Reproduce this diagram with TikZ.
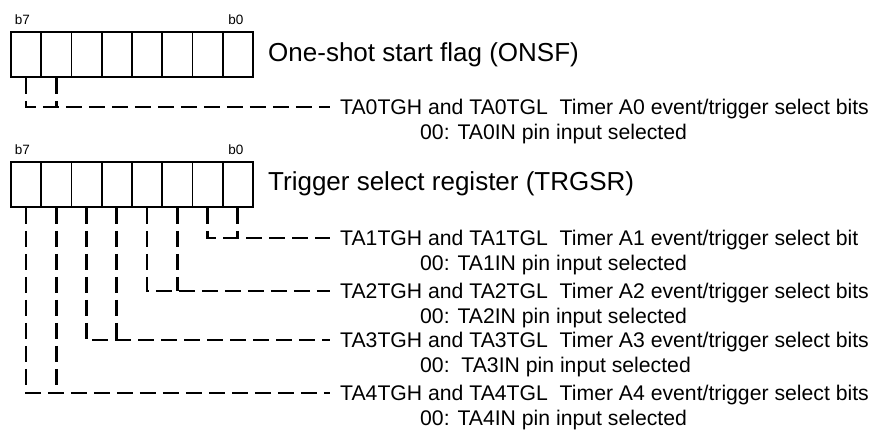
\documentclass[tikz,border=0pt]{standalone}
\usepackage{fontspec}
\setmainfont{Liberation Sans}
\begin{document}
\begin{tikzpicture}[x=1pt,y=-1pt,
  cell/.style={draw, line width=1.9pt, minimum width=30.25pt, minimum height=45pt, inner sep=0pt, anchor=north west},
  bitlbl/.style={font=\fontsize{13.5}{15}\selectfont, inner sep=0pt},
  regtitle/.style={font=\fontsize{26}{30}\selectfont, anchor=base west, inner sep=0pt},
  desc/.style={font=\fontsize{21.2}{25}\selectfont, anchor=west, inner xsep=10pt, inner ysep=0pt, text height=15.2pt, text depth=0pt},
  subdesc/.style={font=\fontsize{21.2}{25}\selectfont, anchor=base west, inner sep=0pt},
  link/.style={line width=2.8pt, dash pattern=on 16pt off 7pt}]
\useasboundingbox (0,0) rectangle (876,429);
\foreach \i in {0,...,7} {
  \node[cell] (a\i) at ({10+30.25*\i},31) {};
  \node[cell] (b\i) at ({10+30.25*\i},161) {};
}
\node[bitlbl] (a7l) at (22.5,20) {b7};
\node[bitlbl] (a0l) at (236,20) {b0};
\node[bitlbl] (b7l) at (22.5,150) {b7};
\node[bitlbl] (b0l) at (236,150) {b0};
\node[regtitle] (ta) at (268,61) {One-shot start flag (ONSF)};
\node[regtitle] (tb) at (268,190) {Trigger select register (TRGSR)};
\node[desc] (d0) at (330,107) {TA0TGH and TA0TGL\ \ Timer A0 event/trigger select bits};
\node[subdesc] (s0) at (420,139.5) {00: TA0IN pin input selected};
\node[desc] (d1) at (330,238) {TA1TGH and TA1TGL\ \ Timer A1 event/trigger select bit};
\node[subdesc] (s1) at (420,270.5) {00: TA1IN pin input selected};
\node[desc] (d2) at (330,291) {TA2TGH and TA2TGL\ \ Timer A2 event/trigger select bits};
\node[subdesc] (s2) at (420,323.5) {00: TA2IN pin input selected};
\node[desc] (d3) at (330,340) {TA3TGH and TA3TGL\ \ Timer A3 event/trigger select bits};
\node[subdesc] (s3) at (420,372.5) {00:\ \ TA3IN pin input selected};
\node[desc] (d4) at (330,393) {TA4TGH and TA4TGL\ \ Timer A4 event/trigger select bits};
\node[subdesc] (s4) at (420,425) {00: TA4IN pin input selected};
% connectors
\draw[link] (a0.south) |- (d0.west);
\draw[link] (a1.south) -- (a1.south |- d0.west);
\draw[link] (b6.south) |- (d1.west);
\draw[link] (b7.south) -- (b7.south |- d1.west);
\draw[link] (b4.south) |- (d2.west);
\draw[link] (b5.south) -- (b5.south |- d2.west);
\draw[link] (b2.south) |- (d3.west);
\draw[link] (b3.south) -- (b3.south |- d3.west);
\draw[link] (b0.south) |- (d4.west);
\draw[link] (b1.south) -- (b1.south |- d4.west);
\end{tikzpicture}
\end{document}
